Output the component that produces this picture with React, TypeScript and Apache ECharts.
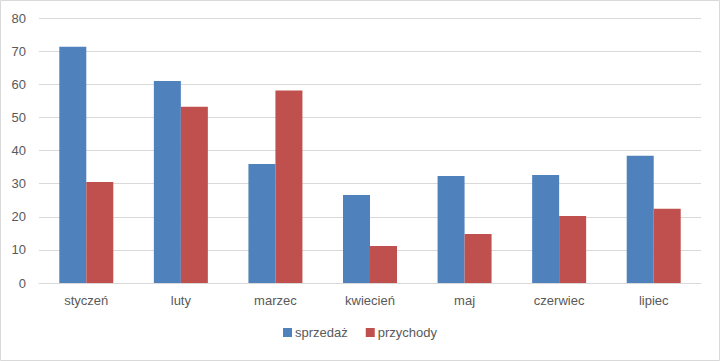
import React, { useEffect, useRef } from "react";
import * as echarts from "echarts";

const categories = ["styczeń", "luty", "marzec", "kwiecień", "maj", "czerwiec", "lipiec"];
const sprzedaz = [71.3, 61.0, 35.9, 26.6, 32.3, 32.6, 38.4];
const przychody = [30.5, 53.2, 58.1, 11.2, 14.8, 20.2, 22.4];
const seriesNames = ["sprzedaż", "przychody"];
const yTicks = { min: 0, max: 80, interval: 10 };

const FONT = "'Liberation Sans', 'Open Sans', sans-serif";

export default function App() {
  const ref = useRef<HTMLDivElement>(null);
  useEffect(() => {
    if (!ref.current) return;
    const chart = echarts.init(ref.current, undefined, { renderer: "svg" });
    chart.setOption({
      animation: false,
      backgroundColor: "#ffffff",
      textStyle: { fontFamily: FONT },
      graphic: [
        {
          type: "rect",
          shape: { x: 0.5, y: 0.5, width: 719, height: 360 },
          style: { fill: "none", stroke: "#d9d9d9", lineWidth: 1 },
          silent: true,
          z: -1,
        },
      ],
      grid: { left: 39, right: 19, top: 18, bottom: 78, containLabel: false },
      legend: {
        bottom: 17,
        left: "center",
        itemWidth: 9,
        itemHeight: 9,
        itemGap: 18,
        icon: "rect",
        textStyle: { color: "#595959", fontSize: 13, fontFamily: FONT, padding: [0, 0, 0, -2] },
        data: seriesNames,
      },
      xAxis: {
        type: "category",
        data: categories,
        axisLine: { show: true, lineStyle: { color: "#d9d9d9", width: 1 } },
        axisTick: { show: false },
        axisLabel: { color: "#595959", fontSize: 13, margin: 11, fontFamily: FONT },
      },
      yAxis: {
        type: "value",
        min: yTicks.min,
        max: yTicks.max,
        interval: yTicks.interval,
        axisLine: { show: false },
        axisTick: { show: false },
        axisLabel: { color: "#595959", fontSize: 13, margin: 13, fontFamily: FONT },
        splitLine: { lineStyle: { color: "#d9d9d9", width: 1 } },
      },
      series: [
        {
          name: seriesNames[0],
          type: "bar",
          data: sprzedaz,
          itemStyle: { color: "#4f81bd" },
          barWidth: 27,
          barGap: "0%",
        },
        {
          name: seriesNames[1],
          type: "bar",
          data: przychody,
          itemStyle: { color: "#c0504d" },
          barWidth: 27,
          barGap: "0%",
        },
      ],
    });
    return () => chart.dispose();
  }, []);
  return (
    <div
      ref={ref}
      style={{ position: "absolute", left: 0, top: 0, width: 720, height: 361 }}
    />
  );
}
